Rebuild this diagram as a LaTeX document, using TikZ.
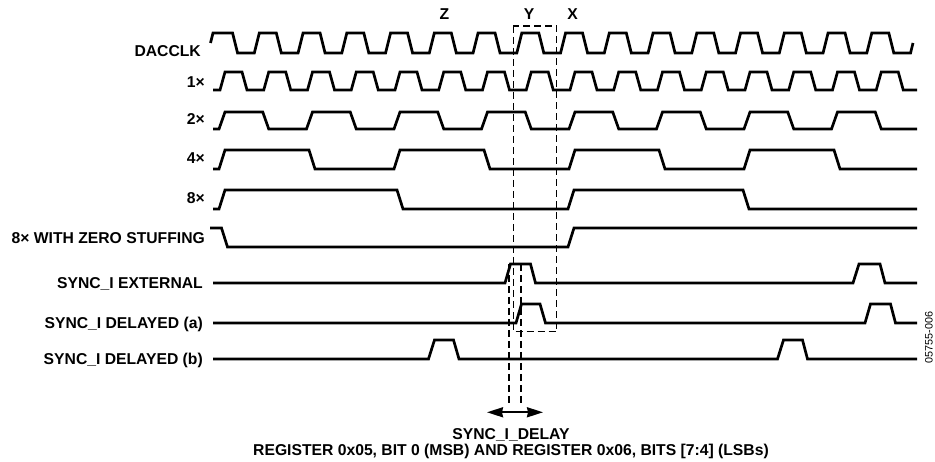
\documentclass[tikz,border=0pt]{standalone}
\usepackage{fontspec}
\setmainfont{Liberation Sans}
\usetikzlibrary{arrows.meta}
\begin{document}
\begin{tikzpicture}[x=1pt,y=-1pt,
  wave/.style={line width=2.7pt, line join=miter},
  guide/.style={line width=1.4pt, dash pattern=on 7pt off 4pt},
  lab/.style={font=\fontsize{15.7}{16}\bfseries\selectfont, anchor=base east, inner sep=0pt},
  toplab/.style={font=\fontsize{15.7}{16}\bfseries\selectfont, anchor=base, inner sep=0pt},
  note/.style={font=\fontsize{10.8}{12}\selectfont, rotate=90, inner sep=0pt},
  dim/.style={line width=2pt, {Stealth[length=16pt,width=10pt,inset=1pt]}-{Stealth[length=16pt,width=10pt,inset=1pt]}}]
\useasboundingbox (0,0) rectangle (935,462);

% labels
\node[lab] (lclk) at (201,56.5) {DACCLK};
\node[lab] (l1) at (205,87.5) {1×};
\node[lab] (l2) at (205,125) {2×};
\node[lab] (l4) at (205,163.5) {4×};
\node[lab] (l8) at (205,203.5) {8×};
\node[lab] (lzs) at (205,243.5) {8× WITH ZERO STUFFING};
\node[lab] (lse) at (203,289) {SYNC\_I EXTERNAL};
\node[lab] (lda) at (203,329) {SYNC\_I DELAYED (a)};
\node[lab] (ldb) at (203,365) {SYNC\_I DELAYED (b)};

\node[toplab] (tz) at (444.3,20) {Z};
\node[toplab] (ty) at (529,20) {Y};
\node[toplab] (tx) at (572.5,20) {X};

% DACCLK
\draw[wave] (210.5,43) -- (213,33)
  foreach \k in {0,...,14} { -- ({254.3+43.75*\k-21.75},33) -- ({254.3+43.75*\k-16.75},53) -- ({254.3+43.75*\k},53) -- ({254.3+43.75*\k+5},33) }
  -- (888.8,33) -- (893.8,53) -- (910.55,53) -- (913,43);

% 1x
\draw[wave] (213,90)
  foreach \k in {0,...,15} { -- ({220+43.75*\k},90) -- ({225+43.75*\k},72) -- ({242+43.75*\k},72) -- ({247+43.75*\k},90) }
  -- (917,90);

% 2x
\draw[wave] (213,129)
  foreach \k in {0,...,7} { -- ({219+87.5*\k},129) -- ({225+87.5*\k},112) -- ({262.75+87.5*\k},112) -- ({268.75+87.5*\k},129) }
  -- (917,129);

% 4x
\draw[wave] (213,169)
  foreach \k in {0,...,3} { -- ({219+175*\k},169) -- ({225+175*\k},150) -- ({309+175*\k},150) -- ({315+175*\k},169) }
  -- (917,169);

% 8x
\draw[wave] (213,209) -- (219,209) -- (225,190) -- (397,190) -- (403,209) -- (568,209) -- (574,190) -- (743,190) -- (749,209) -- (917,209);

% 8x with zero stuffing
\draw[wave] (210,228) -- (221.5,228) -- (227.5,247) -- (568,247) -- (574,228) -- (917,228);

% SYNC_I EXTERNAL
\draw[wave] (213,283) -- (505,283) -- (510.5,264) -- (530.5,264) -- (535.5,283) -- (853,283) -- (859,264) -- (880,264) -- (885,283) -- (917,283);

% SYNC_I DELAYED (a)
\draw[wave] (213,323) -- (516,323) -- (521.5,304) -- (540,304) -- (545.5,323) -- (865,323) -- (870.5,304) -- (890.5,304) -- (895.5,323) -- (917,323);

% SYNC_I DELAYED (b)
\draw[wave] (213,359) -- (428.5,359) -- (434.5,340) -- (453.5,340) -- (459,359) -- (777.5,359) -- (783.5,340) -- (802.5,340) -- (807.5,359) -- (917,359);

% dashed box and guides
\coordinate (boxtl) at (513.3,26);
\coordinate (boxbr) at (556.7,331.7);
\draw[guide] (boxtl) rectangle (boxbr);
\coordinate (g1t) at (509,264);
\coordinate (g1b) at (509,406);
\coordinate (g2t) at (521,264);
\coordinate (g2b) at (521,406);
\draw[guide] (g1t) -- (g1b);
\draw[guide] (g2t) -- (g2b);

% delay arrow
\coordinate (dl) at (487,412.3);
\coordinate (dr) at (543,412.3);
\draw[dim] (dl) -- (dr);

\node[toplab] (c1) at (511,439) {SYNC\_I\_DELAY};
\node[toplab] (c2) at (511,455) {REGISTER 0x05, BIT 0 (MSB) AND REGISTER 0x06, BITS [7:4] (LSBs)};

\node[note] (fig) at (929,337.5) {05755-006};
\end{tikzpicture}
\end{document}
